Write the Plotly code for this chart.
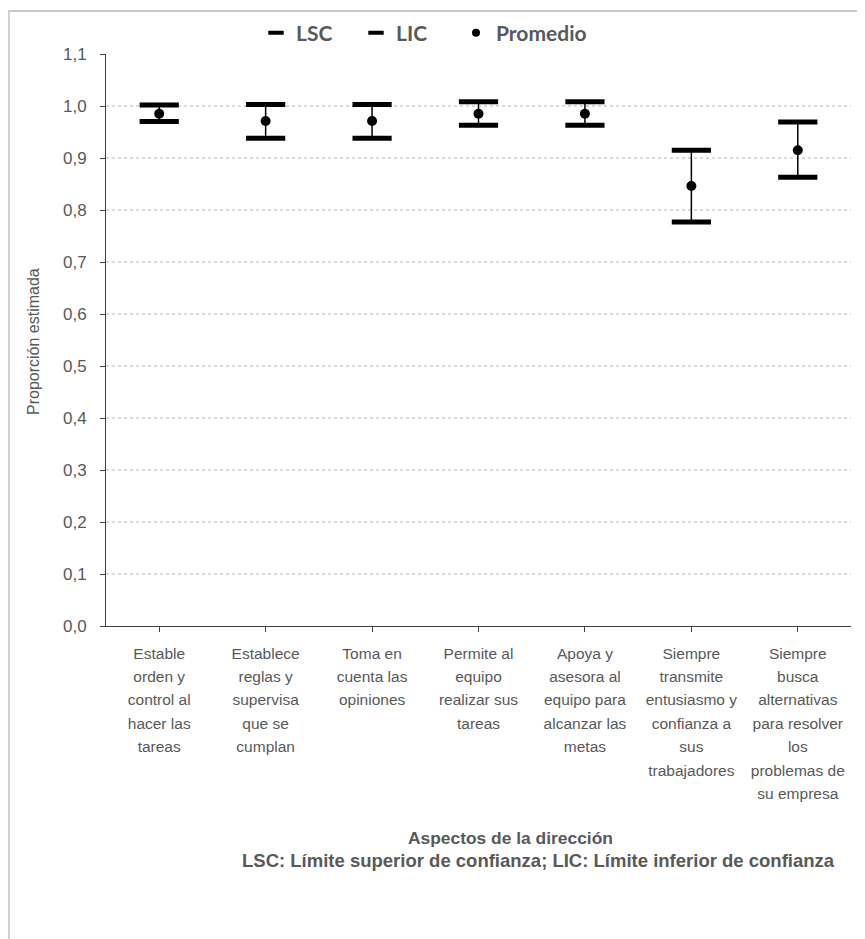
import plotly.graph_objects as go

categorias = [
    ["Estable", "orden y", "control al", "hacer las", "tareas"],
    ["Establece", "reglas y", "supervisa", "que se", "cumplan"],
    ["Toma en", "cuenta las", "opiniones"],
    ["Permite al", "equipo", "realizar sus", "tareas"],
    ["Apoya y", "asesora al", "equipo para", "alcanzar las", "metas"],
    ["Siempre", "transmite", "entusiasmo y", "confianza a", "sus", "trabajadores"],
    ["Siempre", "busca", "alternativas", "para resolver", "los", "problemas de", "su empresa"],
]
lsc = [1.002, 1.003, 1.003, 1.008, 1.008, 0.915, 0.969]
lic = [0.970, 0.938, 0.938, 0.963, 0.963, 0.777, 0.863]
promedio = [0.985, 0.971, 0.971, 0.985, 0.985, 0.846, 0.915]
y_ticks = [0.0, 0.1, 0.2, 0.3, 0.4, 0.5, 0.6, 0.7, 0.8, 0.9, 1.0, 1.1]

x = list(range(len(categorias)))
gray = "#595959"
sans = "Liberation Sans, Arial, sans-serif"

# tick labels: small glyphs, wide line spacing (line spacing follows the base size)
ticktext = ["<br>".join(f"<span style='font-size:15.5px'>{w}</span>" for w in c)
            for c in categorias]

# the page adds an 8px body margin; work in page pixels and shift
OFF = 8
W, H = 865, 939
L = 106 - OFF
T = 54 - OFF
R = W - (851 - OFF)
B = H - (626 - OFF)
PW, PH = W - L - R, H - T - B


def px_x(p):
    return (p - OFF - L) / PW


def px_y(p):
    return (H - B - (p - OFF)) / PH


def cont_x(p):
    return (p - OFF) / W


def cont_y(p):
    return 1 - (p - OFF) / H


fig = go.Figure()
cap_marker = dict(symbol="line-ew", size=28, color="black",
                  line=dict(width=5, color="black"))
fig.add_trace(go.Scatter(x=x, y=lsc, mode="markers", name="LSC",
                         marker=cap_marker, showlegend=False))
fig.add_trace(go.Scatter(x=x, y=lic, mode="markers", name="LIC",
                         marker=cap_marker, showlegend=False))
fig.add_trace(go.Scatter(
    x=x, y=promedio, mode="markers", name="Promedio", showlegend=False,
    marker=dict(symbol="circle", size=10, color="black"),
    error_y=dict(type="data", symmetric=False,
                 array=[u - m for u, m in zip(lsc, promedio)],
                 arrayminus=[m - l for m, l in zip(promedio, lic)],
                 color="black", thickness=1.5, width=0),
))

# legend entries (one legend box each, placed like the reference)
leg_cap = dict(symbol="line-ew", size=11, color="black",
               line=dict(width=4, color="black"))
fig.add_trace(go.Scatter(x=[None], y=[None], mode="markers", name="LSC",
                         marker=leg_cap, legend="legend"))
fig.add_trace(go.Scatter(x=[None], y=[None], mode="markers", name="LIC",
                         marker=leg_cap, legend="legend2"))
fig.add_trace(go.Scatter(x=[None], y=[None], mode="markers", name="Promedio",
                         marker=dict(symbol="circle", size=8, color="black"),
                         legend="legend3"))

leg_font = dict(family="Lato, Open Sans, sans-serif", size=21, color=gray, weight="bold")


def leg(xpage):
    return dict(orientation="h", x=cont_x(xpage), xanchor="left", xref="container",
                y=cont_y(33), yanchor="middle", yref="container",
                bgcolor="rgba(0,0,0,0)", font=leg_font, itemsizing="trace")


fig.update_layout(
    width=W, height=H,
    margin=dict(l=L, r=R, t=T, b=B, autoexpand=False),
    paper_bgcolor="white", plot_bgcolor="white",
    separators=",.",
    showlegend=True,
    legend=leg(256),
    legend2=leg(356),
    legend3=leg(456),
    xaxis=dict(
        range=[-0.5, 6.5], tickmode="array", tickvals=x, ticktext=ticktext,
        showline=True, linecolor="#404040", linewidth=1,
        ticks="outside", ticklen=5, tickcolor="#404040", tickson="boundaries",
        ticklabelstandoff=5,
        showgrid=False, zeroline=False, automargin=False,
        tickfont=dict(family=sans, size=18, color=gray),
    ),
    yaxis=dict(
        range=[0, 1.1], tickmode="array", tickvals=y_ticks, tickformat=".1f",
        showline=True, linecolor="#404040", linewidth=1,
        ticks="outside", ticklen=5, tickcolor="#404040", ticklabelstandoff=10,
        showgrid=True, gridcolor="#d9d9d9", griddash="dot", gridwidth=1.5,
        zeroline=False, automargin=False,
        tickfont=dict(family=sans, size=17, color=gray),
    ),
)

fig.add_annotation(text="Proporción estimada", xref="paper", yref="paper",
                   x=px_x(33), y=px_y(342), showarrow=False, textangle=-90,
                   xanchor="center", yanchor="middle",
                   font=dict(family=sans, size=16, color=gray))
fig.add_annotation(text="Aspectos de la dirección", xref="paper", yref="paper",
                   x=px_x(510), y=px_y(838), showarrow=False,
                   xanchor="center", yanchor="middle",
                   font=dict(family=sans, size=17.4, color=gray, weight="bold"))
fig.add_annotation(text="LSC: Límite superior de confianza; LIC: Límite inferior de confianza",
                   xref="paper", yref="paper",
                   x=px_x(538), y=px_y(860), showarrow=False,
                   xanchor="center", yanchor="middle",
                   font=dict(family=sans, size=18.5, color=gray, weight="bold"))

# outer chart frame (only its top and left edges fall inside the page)
fig.add_shape(type="line", xref="paper", yref="paper", layer="above",
              x0=px_x(OFF), x1=px_x(900), y0=px_y(OFF + 3), y1=px_y(OFF + 3),
              line=dict(color="#c8c8c8", width=2))
fig.add_shape(type="line", xref="paper", yref="paper", layer="above",
              x0=px_x(OFF + 1), x1=px_x(OFF + 1), y0=px_y(1000), y1=px_y(OFF + 2),
              line=dict(color="#d0d0d0", width=2))

fig.write_html("out.html")
